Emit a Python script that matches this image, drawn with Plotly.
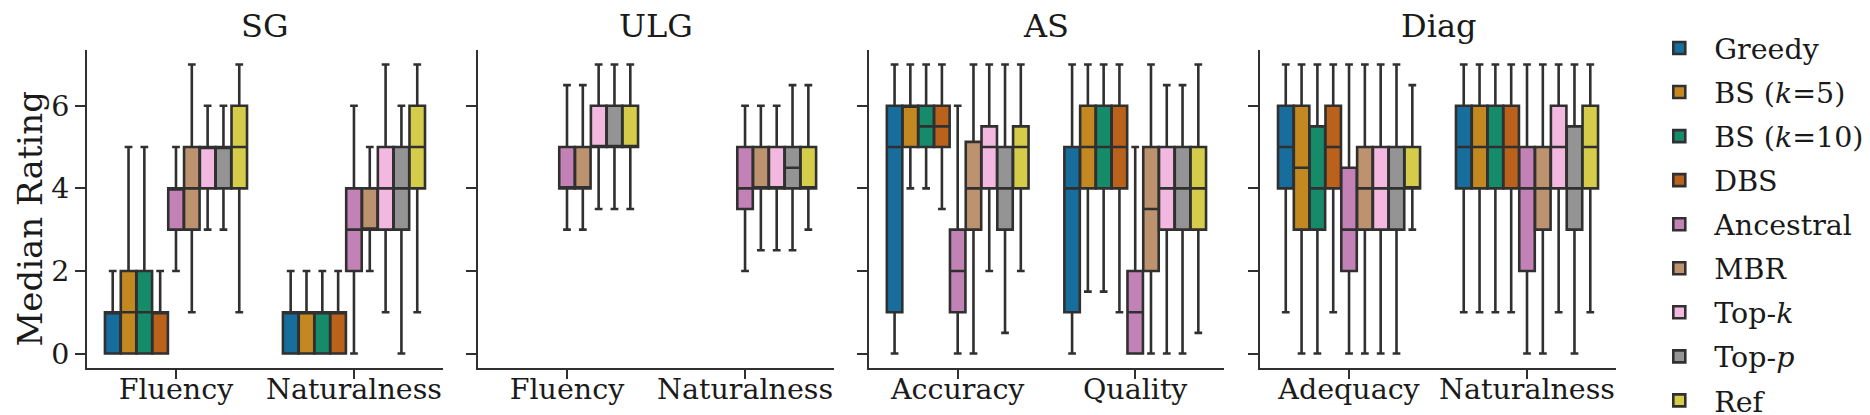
import colorsys
import plotly.graph_objects as go

# ---------------- data ----------------
METHODS = ["Greedy", "BS (<i>k</i>=5)", "BS (<i>k</i>=10)", "DBS", "Ancestral",
           "MBR", "Top-<i>k</i>", "Top-<i>p</i>", "Ref"]
BASE_COLORS = ["#0173B2", "#DE8F05", "#029E73", "#D55E00", "#CC78BC",
               "#CA9161", "#FBAFE4", "#949494", "#ECE133"]

TASKS = ["SG", "ULG", "AS", "Diag"]
SG_CRIT = ["Fluency", "Naturalness"]
ULG_CRIT = ["Fluency", "Naturalness"]
AS_CRIT = ["Accuracy", "Quality"]
DG_CRIT = ["Adequacy", "Naturalness"]

# each entry: [criterion 1, criterion 2], one entry per method (None = not evaluated)
SG_LOW = [[0, 0], [0, 0], [0, 0], [0, 0], [2, 0], [1, 2], [3, 1], [3, 0], [1, 1]]
SG_Q1 = [[0, 0], [0, 0], [0, 0], [0, 0], [3, 2], [3, 3], [4, 3], [4, 3], [4, 4]]
SG_MED = [[1, 1], [1, 1], [1, 1], [1, 1], [4, 3], [4, 3], [5, 4], [5, 4], [5, 5]]
SG_Q3 = [[1, 1], [2, 1], [2, 1], [1, 1], [4, 4], [5, 4], [5, 5], [5, 5], [6, 6]]
SG_HIGH = [[2, 2], [5, 2], [5, 2], [2, 2], [5, 6], [7, 5], [6, 7], [6, 6], [7, 7]]

ULG_LOW = [None, None, None, None, [3, 2], [3, 2.5], [3.5, 2.5], [3.5, 2.5], [3.5, 3]]
ULG_Q1 = [None, None, None, None, [4, 3.5], [4, 4], [5, 4], [5, 4], [5, 4]]
ULG_MED = [None, None, None, None, [4, 4], [4, 4], [5, 4], [5, 4.5], [5, 4]]
ULG_Q3 = [None, None, None, None, [5, 5], [5, 5], [6, 5], [6, 5], [6, 5]]
ULG_HIGH = [None, None, None, None, [6.5, 6], [6.5, 6], [7, 6], [7, 6.5], [7, 6.5]]

AS_LOW = [[0, 0], [4, 1.5], [4, 1.5], [3.5, 1], [0, 0], [0, 0], [2, 0], [0.5, 0], [2, 0.5]]
AS_Q1 = [[1, 1], [5, 4], [5, 4], [5, 4], [1, 0], [3, 2], [4, 3], [3, 3], [4, 3]]
AS_MED = [[5, 4], [6, 5], [5.5, 5], [5.5, 5], [2, 1], [4, 3.5], [5, 4], [4, 4], [5, 4]]
AS_Q3 = [[6, 5], [6, 6], [6, 6], [6, 6], [3, 2], [5.125, 5], [5.5, 5], [5, 5], [5.5, 5]]
AS_HIGH = [[7, 7], [7, 7], [7, 7], [7, 7], [6, 5], [7, 7], [7, 6.5], [7, 6.5], [7, 7]]

DG_LOW = [[1, 1], [0, 1], [0, 1], [1, 1], [0, 0], [0, 0], [0, 1], [0, 0], [3, 1]]
DG_Q1 = [[4, 4], [3, 4], [3, 4], [4, 4], [2, 2], [3, 3], [3, 4], [3, 3], [4, 4]]
DG_MED = [[5, 5], [4.5, 5], [4, 5], [5, 5], [3, 4], [4, 4], [4, 5], [4, 4], [4, 5]]
DG_Q3 = [[6, 6], [6, 6], [5.5, 6], [6, 6], [4.5, 5], [5, 5], [5, 6], [5, 5.5], [5, 6]]
DG_HIGH = [[7, 7], [7, 7], [7, 7], [7, 7], [7, 7], [7, 7], [7, 7], [7, 7], [6.5, 7]]

Y_TICKS = [0, 2, 4, 6]

PANELS = [
    ("SG", SG_CRIT, SG_LOW, SG_Q1, SG_MED, SG_Q3, SG_HIGH),
    ("ULG", ULG_CRIT, ULG_LOW, ULG_Q1, ULG_MED, ULG_Q3, ULG_HIGH),
    ("AS", AS_CRIT, AS_LOW, AS_Q1, AS_MED, AS_Q3, AS_HIGH),
    ("Diag", DG_CRIT, DG_LOW, DG_Q1, DG_MED, DG_Q3, DG_HIGH),
]

# ---------------- style ----------------
FONT = "DejaVu Serif"
EDGE = "#303030"
TXT = "#1a1a1a"


def desat(hexc, prop=0.75):
    r, g, b = (int(hexc[i:i + 2], 16) / 255 for i in (1, 3, 5))
    h, l, s = colorsys.rgb_to_hls(r, g, b)
    r, g, b = colorsys.hls_to_rgb(h, l, s * prop)
    return "#%02x%02x%02x" % (round(r * 255), round(g * 255), round(b * 255))


COLORS = [desat(c) for c in BASE_COLORS]
GROUP_W = 0.8
N = len(METHODS)
BOX_W = GROUP_W / N

fig = go.Figure()

DOMAINS = [[0.0, 0.2328], [0.2557, 0.4886], [0.5114, 0.7436], [0.7672, 1.0]]

for p, (task, crits, low, q1, med, q3, high) in enumerate(PANELS):
    xa = "x" if p == 0 else f"x{p + 1}"
    ya = "y" if p == 0 else f"y{p + 1}"
    for m in range(N):
        if q1[m] is None:
            continue
        off = (m - (N - 1) / 2) * BOX_W
        fig.add_trace(go.Box(
            x=[i + off for i in range(len(crits))],
            q1=q1[m], median=med[m], q3=q3[m],
            lowerfence=low[m], upperfence=high[m],
            width=BOX_W * 0.98,
            name=METHODS[m],
            legendgroup=METHODS[m],
            showlegend=(p == 0),
            fillcolor=COLORS[m],
            line=dict(color=EDGE, width=2.6),
            whiskerwidth=0.5,
            boxpoints=False,
            hoverinfo="skip",
            xaxis=xa, yaxis=ya,
        ))
    ax_key = "xaxis" if p == 0 else f"xaxis{p + 1}"
    ay_key = "yaxis" if p == 0 else f"yaxis{p + 1}"
    fig.layout[ax_key] = dict(
        domain=DOMAINS[p], range=[-0.5, 1.5], anchor=ya,
        tickmode="array", tickvals=list(range(len(crits))), ticktext=crits,
        showline=True, linecolor=EDGE, linewidth=2,
        ticks="outside", ticklen=9, tickwidth=2, tickcolor=EDGE,
        ticklabelstandoff=-14,
        showgrid=False, zeroline=False,
        tickfont=dict(family=FONT, size=28.5, color=TXT),
    )
    fig.layout[ay_key] = dict(
        domain=[0, 1], range=[-0.35, 7.35], anchor=xa,
        tickmode="array", tickvals=Y_TICKS,
        showticklabels=(p == 0),
        showline=True, linecolor=EDGE, linewidth=2,
        ticks="outside", ticklen=10, tickwidth=2, tickcolor=EDGE,
        showgrid=False, zeroline=False,
        tickfont=dict(family=FONT, size=28.5, color=TXT),
    )
    fig.add_annotation(
        text=task, xref="paper", yref="paper",
        x=(DOMAINS[p][0] + DOMAINS[p][1]) / 2, y=1.0,
        xanchor="center", yanchor="bottom", yshift=3, showarrow=False,
        font=dict(family=FONT, size=32, color=TXT),
    )

fig.add_annotation(
    text="Median Rating", xref="paper", yref="paper",
    x=-0.0373, y=0.47, textangle=-90, xanchor="center", yanchor="middle",
    showarrow=False, font=dict(family=FONT, size=34, color=TXT),
)

fig.update_layout(
    width=1870, height=415,
    margin=dict(l=79, r=262, t=42, b=55, autoexpand=False),
    paper_bgcolor="white", plot_bgcolor="white",
    boxmode="overlay",
    showlegend=True,
    legend=dict(
        x=1.0185, y=1.085, xanchor="left", yanchor="top",
        font=dict(family=FONT, size=28.5, color=TXT),
        tracegroupgap=4, bgcolor="rgba(0,0,0,0)",
        itemwidth=60, maxheight=430,
    ),
)

fig.write_html("out.html")
